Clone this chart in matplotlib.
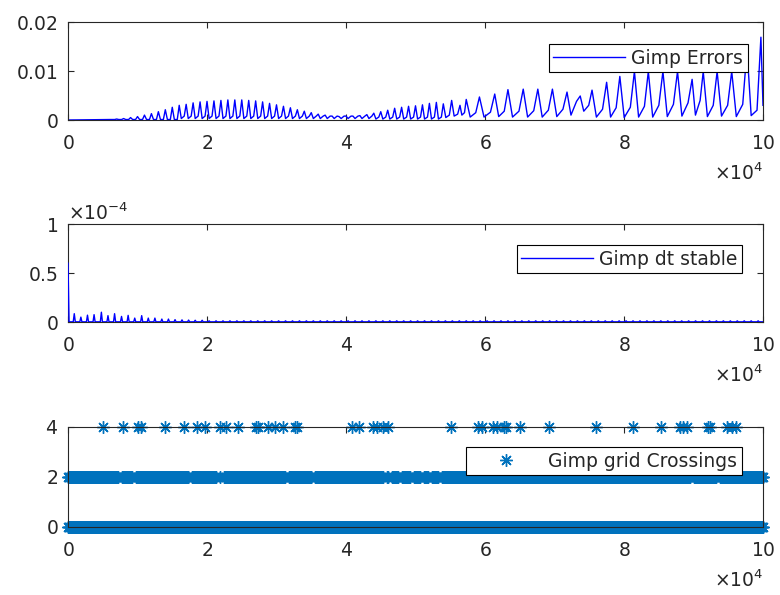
import numpy as np
import matplotlib.pyplot as plt
from matplotlib.ticker import ScalarFormatter

# ---- Gimp Errors (picos) ----
err_peak_x = [6000, 7000, 8000, 9000, 10000, 11000, 12000, 13000, 14000, 15000,
              16000, 17000, 18000, 19000, 20000, 21000, 22000, 23000, 24000, 25000,
              26000, 27000, 28000, 29000, 30000, 31000, 32000, 33000, 34000, 35000,
              36000, 37000, 38000, 39000, 40000, 41000, 42000, 43000, 44000, 45000,
              46000, 47000, 48000, 49000, 50000, 51000, 52000, 53000, 54000,
              55200, 56400, 57300, 59200, 61400, 63300, 65500, 67600, 69700, 71800,
              73700, 75400, 77500, 79400, 81500, 83500, 85600, 87700, 89800, 91400,
              93400, 95500, 97700, 99700]
err_peak_y = [0.0001, 0.0002, 0.0003, 0.0005, 0.0007, 0.0010, 0.0013, 0.0017, 0.0021, 0.0026,
              0.0030, 0.0032, 0.0035, 0.0037, 0.0038, 0.0039, 0.0040, 0.0041, 0.0041, 0.0041,
              0.0040, 0.0039, 0.0037, 0.0034, 0.0031, 0.0028, 0.0025, 0.0021, 0.0018, 0.0015,
              0.0012, 0.0010, 0.0008, 0.0007, 0.0008, 0.0008, 0.0009, 0.0011, 0.0014, 0.0017,
              0.0020, 0.0024, 0.0026, 0.0028, 0.0029, 0.0031, 0.0034, 0.0036, 0.0033,
              0.0040, 0.0030, 0.0042, 0.0047, 0.0053, 0.0062, 0.0063, 0.0063, 0.0063, 0.0057,
              0.0049, 0.0061, 0.0077, 0.0089, 0.0099, 0.0099, 0.0099, 0.0099, 0.0083, 0.0099,
              0.0099, 0.0099, 0.0144, 0.0169]
# vale logo apos cada pico e "ombro" antes do pico seguinte
err_low = ([0.0001] * 10 + [0.0003] * 28 + [0.0002] * 10 +
           [0.0005, 0.0008, 0.0010, 0.0006, 0.0006, 0.0007, 0.0006, 0.0006, 0.0006, 0.0007,
            0.0010, 0.0018, 0.0006, 0.0006, 0.0005, 0.0006, 0.0006, 0.0007, 0.0008, 0.0010,
            0.0007, 0.0008, 0.0007, 0.0009])
err_shoulder = ([0.0001] * 10 + [0.0008] * 28 + [0.0006] * 10 +
                [0.0010, 0.0012, 0.0015, 0.0015, 0.0016, 0.0018, 0.0018, 0.0019, 0.0020, 0.0022,
                 0.0038, 0.0030, 0.0022, 0.0025, 0.0026, 0.0028, 0.0030, 0.0032, 0.0035, 0.0040,
                 0.0030, 0.0030, 0.0032, 0.0020])
err_start_x = [0, 5000]
err_start_y = [0.0, 0.0001]
err_end_x = 100000
err_end_y = 0.003

# ---- Gimp dt stable ----
dt_first = 0.6e-4
dt_spike_x = [900, 1850, 2800, 3750, 4800, 5750, 6700, 7700, 8650, 9600,
              10600, 11550, 12500, 13500, 14450, 15400, 16400, 17350, 18300, 19300]
dt_spike_y = [0.085e-4, 0.05e-4, 0.07e-4, 0.075e-4, 0.10e-4, 0.065e-4, 0.085e-4, 0.057e-4, 0.068e-4, 0.04e-4,
              0.065e-4, 0.04e-4, 0.04e-4, 0.03e-4, 0.03e-4, 0.024e-4, 0.022e-4, 0.02e-4, 0.018e-4, 0.018e-4]
dt_tail_y = 0.012e-4
dt_base = 0.002e-4

# ---- Gimp grid Crossings ----
cross4_x = [5000, 7900, 10000, 10500, 14000, 16700, 18500, 19700, 21900, 22800,
            24500, 27100, 27400, 28800, 29800, 31000, 32700, 32900, 40800, 41800,
            43900, 44400, 45300, 46000, 55100, 59000, 59600, 61200, 61700, 62700,
            63000, 65000, 69200, 76000, 81300, 85300, 88100, 88500, 89000, 92100,
            92400, 94800, 95500, 96100]
cross2_gaps = [7500, 9500, 17600, 21600, 22200, 31500, 35300, 45600, 46300, 47800,
               49500, 50900, 52100, 53500, 89800, 93500]

plt.rcParams['font.family'] = 'DejaVu Sans'
plt.rcParams['font.size'] = 13.5

cinza = (0.15, 0.15, 0.15)


class Fmt(ScalarFormatter):
    # numeros no estilo do MATLAB: 0, 0.5, 1
    def _set_format(self):
        self.format = r'$\mathdefault{%g}$'


fig = plt.figure(figsize=(7.8, 5.95), dpi=100)
ax1 = fig.add_axes([0.0872, 0.7983, 0.891, 0.1647])
ax2 = fig.add_axes([0.0872, 0.4588, 0.891, 0.1647])
ax3 = fig.add_axes([0.0872, 0.1143, 0.891, 0.1681])

# curva de erros
xs = list(err_start_x)
ys = list(err_start_y)
for i in range(len(err_peak_x)):
    xs.append(err_peak_x[i])
    ys.append(err_peak_y[i])
    if i < len(err_peak_x) - 1:
        gap = err_peak_x[i + 1] - err_peak_x[i]
        xs += [err_peak_x[i] + 0.3 * gap, err_peak_x[i] + 0.72 * gap]
        ys += [err_low[i], err_shoulder[i]]
xs.append(err_end_x)
ys.append(err_end_y)
ax1.plot(xs, ys, color='b', lw=1.0, label='Gimp Errors')
ax1.set_ylim(0, 0.02)
ax1.set_yticks([0, 0.01, 0.02])

# dt stable: picos estreitos
tail_x = np.arange(20300, 100000, 1000)
sx = list(dt_spike_x) + list(tail_x)
sy = list(dt_spike_y) + [dt_tail_y] * len(tail_x)
dx = [0, 150]
dy = [dt_first, dt_base]
for xi, yi in zip(sx, sy):
    dx += [xi - 150, xi, xi + 150]
    dy += [dt_base, yi, dt_base]
dx.append(100000)
dy.append(dt_base)
ax2.plot(dx, dy, color='b', lw=1.0, label='Gimp dt stable', zorder=3)
ax2.set_ylim(0, 1e-4)
ax2.set_yticks([0, 0.5e-4, 1e-4])

# grid crossings
grid_x = np.arange(0, 100001, 100)
row2 = np.array([x for x in grid_x if min(abs(x - g) for g in cross2_gaps) > 250])
cx = np.concatenate([grid_x, row2, cross4_x])
cy = np.concatenate([np.zeros(len(grid_x)), np.full(len(row2), 2.0), np.full(len(cross4_x), 4.0)])
ax3.plot(cx, cy, ls='none', marker=(8, 2, 0), markersize=9, mew=1.0,
         color='#0072BD', clip_on=False, label='Gimp grid Crossings')
ax3.set_ylim(0, 4)
ax3.set_yticks([0, 2, 4])

legend_pos = {ax1: (0.978, 0.776), ax2: (0.970, 0.786), ax3: (0.970, 0.80)}

for ax in [ax1, ax2, ax3]:
    ax.set_xlim(0, 100000)
    ax.set_xticks([0, 20000, 40000, 60000, 80000, 100000])
    fx = Fmt(useMathText=True)
    fx.set_powerlimits((4, 4))
    ax.xaxis.set_major_formatter(fx)
    fy = Fmt(useMathText=True)
    if ax is ax2:
        fy.set_powerlimits((-4, -4))
    else:
        fy.set_powerlimits((-6, 6))
    ax.yaxis.set_major_formatter(fy)
    ax.tick_params(direction='in', top=True, right=True, length=4, width=0.8,
                   colors=cinza, labelsize=13.5)
    ax.tick_params(axis='x', pad=10)
    ax.tick_params(axis='y', pad=7)
    ax.xaxis.OFFSETTEXTPAD = 7
    ax.xaxis.get_offset_text().set_color(cinza)
    ax.yaxis.get_offset_text().set_color(cinza)
    for s in ax.spines.values():
        s.set_color(cinza)
        s.set_linewidth(0.8)
    leg = ax.legend(loc='upper right', bbox_to_anchor=legend_pos[ax], borderaxespad=0,
                    fancybox=False, framealpha=1, edgecolor='black', handlelength=3.8,
                    handletextpad=0.35, borderpad=0.25, numpoints=1, fontsize=13.5)
    leg.get_frame().set_linewidth(0.8)
    for t in leg.get_texts():
        t.set_color(cinza)

fig.savefig('out.png', dpi=100)
